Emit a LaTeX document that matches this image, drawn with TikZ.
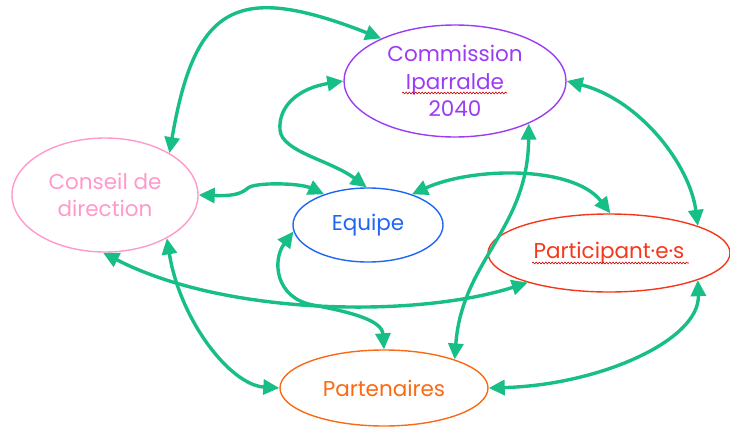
\documentclass[tikz,border=0pt]{standalone}
\usepackage{fontspec}
\setmainfont{Poppins}
\usetikzlibrary{shapes.geometric,arrows.meta,decorations.pathmorphing}
\definecolor{lgreen}{HTML}{17BF86}
\definecolor{cpurple}{HTML}{9B3CF5}
\definecolor{cpink}{HTML}{FF99CC}
\definecolor{cblue}{HTML}{1F66F5}
\definecolor{cred}{HTML}{F5381C}
\definecolor{corange}{HTML}{FA6A14}
\begin{document}
\begin{tikzpicture}[x=1pt,y=-1pt,
  bubble/.style={ellipse, draw, line width=1.4pt, inner sep=0pt, align=center,
     font=\fontsize{21.5}{27.5}\selectfont},
  link/.style={draw=lgreen, line width=3.4pt,
     {Triangle[length=16pt,width=15pt]}-{Triangle[length=16pt,width=15pt]}},
  wavy/.style={draw=red!80!black, line width=0.6pt, decorate,
     decoration={snake, amplitude=0.9pt, segment length=3.2pt}}]
\useasboundingbox (0,0) rectangle (730,428);

\node[bubble, draw=cpurple, text=cpurple, minimum width=222pt, minimum height=112pt] (com) at (455,81) {Commission\\Iparralde\\2040};
\node[bubble, draw=cpink, text=cpink, minimum width=186pt, minimum height=114pt] (con) at (105,195) {Conseil de\\direction};
\node[bubble, draw=cblue, text=cblue, minimum width=150pt, minimum height=74pt] (equ) at (368,225) {Equipe};
\node[bubble, draw=cred, text=cred, minimum width=242pt, minimum height=78pt] (par) at (609,253) {Participant·e·s};
\node[bubble, draw=corange, text=corange, minimum width=208pt, minimum height=76pt] (pte) at (384,388) {Partenaires};

% spell-check underlines
\draw[wavy] ([xshift=-53pt,yshift=-12pt]com.center) -- ([xshift=52pt,yshift=-12pt]com.center);
\draw[wavy] ([xshift=-77pt,yshift=-10pt]par.center) -- ([xshift=80pt,yshift=-10pt]par.center);

% connectors
\draw[link] (con.33) .. controls (195,4) and (237,-18) .. (com.150);
\draw[link] (com.180) .. controls (300,88) and (278,105) .. (280,130)
            .. controls (282,152) and (330,160) .. (equ.92);
\draw[link] (con.0) .. controls (230,196) and (240,195) .. (248,188)
            .. controls (255,182) and (300,183) .. (equ.145);
\draw[link] (equ.35) .. controls (472,167) and (573,165) .. (par.88);
\draw[link] (com.0) .. controls (640,100) and (690,165) .. (par.17);
\draw[link] (con.268) .. controls (226,316) and (417,318) .. (par.200);
\draw[link] (equ.185) .. controls (272,260) and (275,298) .. (313,305)
            .. controls (350,312) and (382,320) .. (pte.90);
\draw[link] (com.-30) .. controls (528,230) and (462,260) .. (pte.22);
\draw[link] (con.-35) .. controls (180,320) and (230,385) .. (pte.180);
\draw[link] (pte.0) .. controls (600,385) and (700,340) .. (par.-17);
\end{tikzpicture}
\end{document}
